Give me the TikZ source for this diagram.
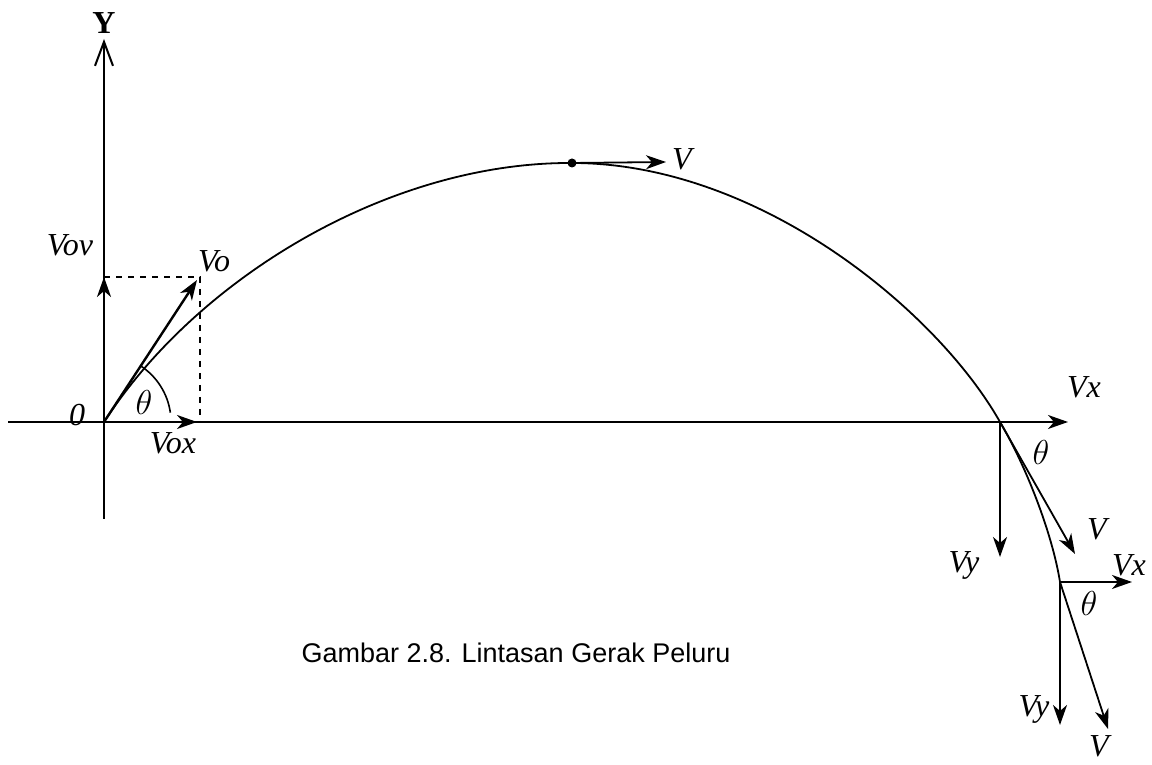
\documentclass[tikz,border=0pt]{standalone}
\usepackage{fontspec}
\setmainfont{Liberation Serif}
\newfontfamily\capfont{Liberation Sans}
\usetikzlibrary{arrows.meta}

\begin{document}
\begin{tikzpicture}[
  x=0.5pt, y=0.5pt,
  axis/.style={line width=1pt},
  vec/.style={-{Stealth[length=10pt, width=7pt, inset=3pt]}, line width=0.9pt},
  lbl/.style={font=\fontsize{16}{18}\selectfont\itshape, inner sep=0pt},
  traj/.style={line width=0.9pt}]
\useasboundingbox (0,0) rectangle (1152,765);
% points on the path
\coordinate (O) at (104,343);
\coordinate (top) at (572,602);
\coordinate (P1) at (1000,343);
\coordinate (P2) at (1060,183);
% axes
\coordinate (xleft) at (8,343);
\coordinate (ytop) at (104,726);
\coordinate (ybot) at (104,246);
\draw[axis] (xleft) -- (P1);
\draw[axis, -{Straight Barb[length=12pt, width=9pt]}] (ybot) -- (ytop);
\node[font=\fontsize{16}{18}\selectfont\bfseries, inner sep=0pt] (ylab) at (104,742) {Y};
\node[lbl] (olab) at (77,350) {0};
% trajectory
\draw[traj] (O) .. controls (198,488) and (390,603) .. (top)
  .. controls (760,602) and (938,453) .. (P1)
  .. controls (1025,301) and (1052,233) .. (P2);
% launch
\coordinate (vo) at (197,485);
\coordinate (vox) at (197,343);
\coordinate (voy) at (104,488);
\coordinate (corner) at (200,488);
\coordinate (cornerx) at (200,343);
\draw[dashed, line width=0.8pt] (voy) -- (corner) -- (cornerx);
\draw[vec, line width=1.2pt] (O) -- (vo);
\draw[vec] (O) -- (vox);
\draw[vec] (O) -- (voy);
\draw[line width=0.8pt] (O) ++(8:67) arc[start angle=8, end angle=57, radius=67];
\node[lbl] (volab) at (214,504) {Vo};
\node[lbl] (vovlab) at (70,520) {Vov};
\node[lbl] (voxlab) at (173,322) {Vox};
\node[lbl] (th0) at (144,362) {$\theta$};
% highest point
\fill (top) circle (4.5);
\coordinate (vtop) at (666,603);
\draw[vec] (top) -- (vtop);
\node[lbl] (vtoplab) at (682,606) {V};
% first point
\coordinate (vx1) at (1068,343);
\coordinate (vy1) at (1000,208);
\coordinate (v1) at (1075,211);
\draw[vec] (P1) -- (vx1);
\draw[vec] (P1) -- (vy1);
\draw[vec] (P1) -- (v1);
\node[lbl] (vx1lab) at (1084,378) {Vx};
\node[lbl] (vy1lab) at (964,200) {Vy};
\node[lbl] (v1lab) at (1097,236) {V};
\node[lbl] (th1) at (1041,312) {$\theta$};
% second point
\coordinate (vx2) at (1132,183);
\coordinate (vy2) at (1060,40);
\coordinate (v2) at (1108,36);
\draw[vec] (P2) -- (vx2);
\draw[vec] (P2) -- (vy2);
\draw[vec] (P2) -- (v2);
\node[lbl] (vx2lab) at (1129,200) {Vx};
\node[lbl] (vy2lab) at (1034,56) {Vy};
\node[lbl] (v2lab) at (1099,19) {V};
\node[lbl] (th2) at (1089,161) {$\theta$};
% caption
\node[font=\capfont\fontsize{13.5}{16}\selectfont, inner sep=0pt] (cap) at (516,112) {Gambar 2.8. Lintasan Gerak Peluru};
\end{tikzpicture}
\end{document}
